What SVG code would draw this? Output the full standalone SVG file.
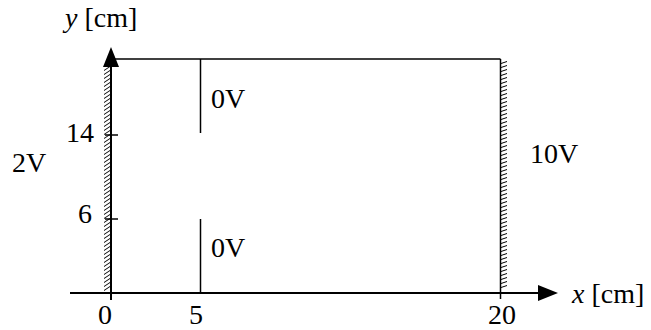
<svg xmlns="http://www.w3.org/2000/svg" width="651" height="330" viewBox="0 0 651 330">
<style>
.t{font-family:"Liberation Serif","Times New Roman",serif;font-size:28px;fill:#000}
.i{font-style:italic}
.ln{stroke:#000;fill:none}
</style>
<rect width="651" height="330" fill="#fff"/>
<g id="walls">
<line class="ln" x1="111" y1="60" x2="111" y2="300" stroke-width="2"/>
<line class="ln" x1="500.5" y1="59" x2="500.5" y2="299" stroke-width="1.5"/>
<g transform="translate(107,0) skewY(-35)"><line class="ln" x1="0" y1="64" x2="0" y2="290" stroke-width="6" stroke-dasharray="1 3"/></g>
<g transform="translate(504,0) skewY(-20)"><line class="ln" x1="0" y1="62" x2="0" y2="288" stroke-width="6" stroke-dasharray="1 3"/></g>
</g>
<g id="connectors">
<line class="ln" x1="111" y1="59" x2="500.5" y2="59" stroke-width="1.5"/>
<line class="ln" x1="70" y1="293" x2="540" y2="293" stroke-width="2"/>
<line class="ln" x1="200.5" y1="59" x2="200.5" y2="133" stroke-width="1.5"/>
<line class="ln" x1="200.5" y1="219" x2="200.5" y2="293" stroke-width="1.5"/>
<line class="ln" x1="105" y1="135" x2="118" y2="135" stroke-width="1.5"/>
<line class="ln" x1="105" y1="219" x2="118" y2="219" stroke-width="1.5"/>
<polygon points="111,47 103,67 119,67" fill="#000"/>
<polygon points="558,293 538,285 538,301" fill="#000"/>
</g>
<g id="labels">
<text class="t" x="65" y="27" font-size="30"><tspan class="i">y</tspan> [cm]</text>
<text class="t" x="572" y="303"><tspan class="i">x</tspan> [cm]</text>
<text class="t" x="211" y="108">0V</text>
<text class="t" x="211" y="257">0V</text>
<text class="t" x="66" y="142">14</text>
<text class="t" x="78" y="223">6</text>
<text class="t" x="12" y="172">2V</text>
<text class="t" x="530" y="163">10V</text>
<text class="t" x="98" y="324">0</text>
<text class="t" x="189" y="324">5</text>
<text class="t" x="488" y="324">20</text>
</g>
</svg>
